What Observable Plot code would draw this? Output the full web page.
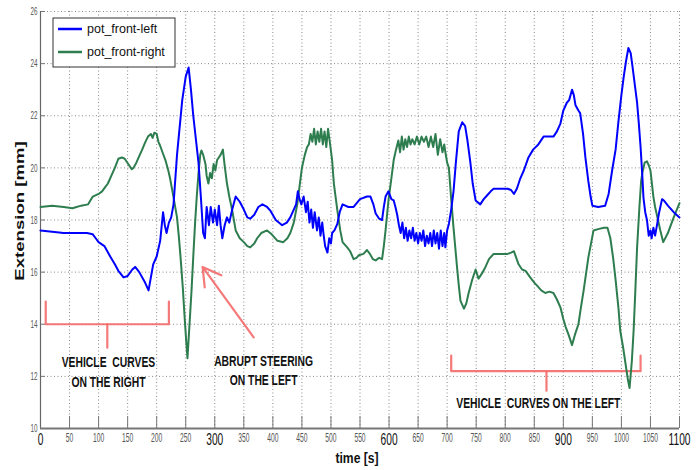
<!DOCTYPE html>
<html><head><meta charset="utf-8">
<script src="https://cdn.jsdelivr.net/npm/d3@7"></script>
<script src="https://cdn.jsdelivr.net/npm/@observablehq/plot@0.6"></script>
<style>
body{margin:0;background:#fff}
</style>
</head><body><div id="chart"></div>
<script>
// ---- series: pot_front-left (blue) ----
const leftT = [0,20,40,60,80,90,95,100,110,120,128,134,143,150,158,163,170,180,186,190,194,200,206,211,214,217,221,225,229,235,244,250,255,259,263,268,272,276,280,283,286,290,293,297,300,304,307,310,313,317,321,325,330,336,343,350,356,361,368,375,382,390,396,405,416,424,430,436,440,443,446,449,453,457,460,463,466,469,472,476,479,482,485,487,490,494,497,500,502,506,511,515,520,530,539,550,562,568,573,577,583,588,591,594,599,604,608,611,614,617,620,623,626,629,632,635,638,641,644,647,650,653,656,659,662,665,668,671,674,677,680,683,686,689,692,695,697,700,703,707,711,715,720,726,731,735,740,744,749,757,763,769,775,780,792,804,810,815,820,826,832,840,848,857,866,875,883,889,895,900,906,910,915,918,921,926,929,934,938,943,947,950,960,972,978,984,990,995,1000,1004,1008,1012,1016,1019,1023,1027,1030,1033,1036,1038,1041,1044,1047,1050,1052,1055,1058,1062,1065,1070,1073,1080,1090,1100];
const leftV = [17.6,17.55,17.5,17.5,17.5,17.45,17.3,17.15,17.0,16.6,16.3,16.05,15.8,15.85,16.1,16.2,16.0,15.6,15.3,15.8,16.3,16.6,17.2,18.3,17.8,17.5,17.9,18.1,18.6,20.5,22.6,23.5,23.85,23.0,22.0,21.0,20.2,18.9,17.5,17.3,18.5,17.8,18.5,17.9,18.4,17.8,18.55,17.8,17.3,17.8,18.1,17.9,18.4,18.9,18.7,18.4,18.1,18.05,18.2,18.5,18.6,18.5,18.35,18.0,17.8,17.9,18.1,18.4,18.6,19.1,18.8,18.6,18.9,18.3,18.7,17.9,18.4,17.7,18.3,17.6,18.1,17.4,17.9,17.5,17.0,16.75,17.3,17.1,17.5,17.6,17.85,18.3,18.6,18.5,18.5,18.8,18.9,18.9,18.6,18.25,18.05,18.0,18.5,18.9,19.1,18.8,18.75,18.5,18.2,17.8,17.5,17.9,17.3,17.7,17.2,17.6,17.3,17.7,17.2,17.5,17.1,17.5,17.2,17.6,17.0,17.4,17.1,17.5,17.0,17.6,17.1,17.5,16.9,17.6,17.0,17.5,16.95,17.6,17.85,18.4,19.1,20.2,21.4,21.75,21.6,21.05,20.2,19.4,18.75,18.6,18.8,18.95,19.1,19.2,19.2,19.2,19.15,19.0,19.2,19.6,19.9,20.4,20.7,20.9,21.2,21.2,21.2,21.4,21.7,22.2,22.5,22.6,23.0,22.8,22.4,22.2,22.1,21.3,20.4,19.5,18.9,18.55,18.5,18.55,19.0,19.9,20.7,21.8,22.8,23.5,24.1,24.6,24.4,23.9,23.2,22.5,21.7,20.8,19.7,18.85,18.3,18.0,17.4,17.6,17.3,17.7,17.4,17.9,18.3,18.8,18.75,18.55,18.3,18.1];

// ---- series: pot_front-right (green) ----
const rightT = [0,20,40,55,70,82,90,100,106,111,116,122,128,134,140,145,151,157,160,165,169,175,180,185,190,193,196,200,203,206,210,215,220,223,229,235,238,241,245,248,251,253,256,260,263,266,269,272,275,277,280,284,286,289,292,295,298,301,304,307,310,314,317,321,325,330,336,343,350,356,361,368,373,380,390,398,408,418,425,430,436,442,446,450,455,459,462,465,468,471,474,477,480,483,486,489,492,495,498,502,505,511,516,520,528,533,539,544,548,556,562,567,572,577,583,588,591,594,599,604,608,612,616,619,622,625,628,631,634,637,640,644,648,652,656,660,664,668,672,676,680,684,688,692,695,697,700,703,707,711,717,720,723,729,733,737,743,749,754,760,766,772,780,792,804,810,815,819,823,829,835,843,850,856,862,869,876,883,889,895,900,904,909,915,920,926,930,935,943,952,960,970,976,981,986,990,995,998,1003,1007,1011,1014,1018,1021,1024,1027,1031,1034,1036,1040,1044,1047,1050,1053,1055,1058,1062,1067,1072,1080,1090,1100];
const rightV = [18.5,18.55,18.5,18.45,18.55,18.6,18.9,19.0,19.1,19.25,19.4,19.7,20.0,20.35,20.4,20.35,20.15,19.95,20.0,20.2,20.4,20.7,20.97,21.2,21.3,21.15,21.35,21.3,21.0,20.85,20.6,20.3,19.9,19.6,18.87,18.1,17.4,16.6,15.4,14.3,13.3,12.7,13.8,15.3,16.6,17.85,18.9,19.8,20.5,20.67,20.5,20.15,19.7,19.4,19.8,19.6,20.15,19.9,20.3,20.4,20.5,20.7,20.1,19.4,18.9,18.37,17.6,17.3,17.15,17.0,16.95,17.1,17.3,17.5,17.6,17.45,17.2,17.15,17.3,17.5,17.9,18.6,19.3,20.0,20.5,20.8,20.9,21.3,21.0,21.5,20.9,21.4,21.0,21.5,20.9,21.4,20.8,21.5,21.0,20.3,19.4,18.37,17.6,17.15,16.95,16.8,16.5,16.55,16.65,16.7,16.85,16.7,16.5,16.45,16.55,16.5,17.0,17.6,18.75,19.6,20.3,20.7,21.05,20.6,21.2,20.7,21.1,20.8,21.2,20.9,21.1,20.9,21.2,20.9,21.2,21.0,21.2,20.8,21.2,20.8,21.3,20.5,21.1,20.6,20.9,20.6,20.2,20.0,18.8,17.7,16.2,15.5,14.9,14.6,14.8,15.2,15.7,16.1,15.75,15.95,16.2,16.5,16.7,16.7,16.7,16.75,16.8,16.55,16.3,16.1,16.05,15.8,15.6,15.45,15.3,15.2,15.25,15.2,14.95,14.65,14.2,13.9,13.6,13.2,13.6,14.0,14.6,15.3,16.55,17.6,17.65,17.7,17.7,17.3,16.5,15.7,14.6,13.75,13.1,12.5,11.9,11.55,12.6,13.75,15.3,16.95,18.5,19.5,19.8,20.2,20.25,20.1,19.9,19.3,18.9,18.5,18.1,17.6,17.15,17.5,18.1,18.65];

// ---- axes ----
const xTicks = [0,50,100,150,200,250,300,350,400,450,500,550,600,650,700,750,800,850,900,950,1000,1050,1100];
const xTicksBig = [0,300,600,900,1100];
const yTicks = [10,12,14,16,18,20,22,24,26];

// ---- annotations ----
const bracketX = [9,9,221,221, 115,115, 707,707,1033,1033, 871,871];
const bracketY = [14.87,14.0,14.0,14.87, 14.0,13.1, 12.8,12.2,12.2,12.8, 12.2,11.45];
const bracketId = [1,1,1,1, 2,2, 3,3,3,3, 4,4];
const arrowFrom = [367, 13.5];
const arrowTo = [279, 16.2];
const noteText = ["VEHICLE\u00a0 CURVES","ON THE RIGHT","ABRUPT STEERING","ON THE LEFT","VEHICLE\u00a0 CURVES ON THE LEFT"];
const noteX = [117,117,384,384,857];
const noteY = [12.53,11.77,12.57,11.84,10.96];

const seriesNames = ["pot_front-left","pot_front-right"];
const colors = ["#0000ff","#2e7d4f"];

const left = leftT.map((t,i)=>({t, v:leftV[i]}));
const right = rightT.map((t,i)=>({t, v:rightV[i]}));
const brackets = bracketX.map((x,i)=>({x, y:bracketY[i], id:bracketId[i]}));
const notes = noteText.map((s,i)=>({s, x:noteX[i], y:noteY[i]}));

const sans = "'Liberation Sans',Arial,sans-serif";
const annoColor = "#f46a6a";

const chart = Plot.plot({
  width: 700, height: 470,
  marginLeft: 40, marginRight: 21, marginTop: 11, marginBottom: 42,
  x: {domain:[0,1100]},
  y: {domain:[10,26]},
  style: {fontFamily: sans, background:"#fff"},
  marks: [
    Plot.gridX(xTicks, {stroke:"#888", strokeOpacity:1, strokeDasharray:"1,2.5"}),
    Plot.gridY(yTicks, {stroke:"#888", strokeOpacity:1, strokeDasharray:"1,2.5"}),
    Plot.ruleX(xTicks, {stroke:"#777", insetTop:405}),
    Plot.ruleY(yTicks, {stroke:"#777", insetRight:634}),
    Plot.ruleX([0], {stroke:"#666", strokeWidth:1.2}),
    Plot.ruleY([10], {stroke:"#777", strokeWidth:2}),
    Plot.axisX(xTicks.filter(d=>!xTicksBig.includes(d)), {tickSize:0, tickPadding:5, fontSize:12, fill:"#555", label:null, tickFormat:d=>String(d)}),
    Plot.axisX(xTicksBig, {tickSize:0, tickPadding:4, fontSize:17, fill:"#111", label:null, tickFormat:d=>String(d)}),
    Plot.axisY(yTicks, {tickSize:0, tickPadding:3, fontSize:11.5, fill:"#555", label:null}),
    Plot.line(brackets, {x:"x", y:"y", z:"id", stroke:annoColor, strokeWidth:2.2, strokeOpacity:0.9}),
    Plot.arrow([0], {x1:()=>arrowFrom[0], y1:()=>arrowFrom[1], x2:()=>arrowTo[0], y2:()=>arrowTo[1], stroke:annoColor, strokeWidth:2.2, headLength:14, strokeOpacity:0.9}),
    Plot.text(notes, {x:"x", y:"y", text:"s", fontSize:14, fontWeight:"bold", fill:"#111"}),
    Plot.line(right, {x:"t", y:"v", stroke:colors[1], strokeWidth:2}),
    Plot.line(left, {x:"t", y:"v", stroke:colors[0], strokeWidth:2})
  ]
});

const svg = d3.select(chart);
// horizontally condense texts (the reference uses a narrow face)
function squeeze(sel, sx){
  sel.each(function(){
    const x = parseFloat(this.getAttribute("x")) || 0;
    const t = this.getAttribute("transform") || "";
    this.setAttribute("transform", `${t} translate(${x},0) scale(${sx},1) translate(${-x},0)`);
  });
}
const xLabelGroups = svg.selectAll('g[aria-label="x-axis tick label"]').nodes();
squeeze(d3.select(xLabelGroups[0]).selectAll("text"), 0.56);
squeeze(d3.select(xLabelGroups[1]).selectAll("text"), 0.6);
squeeze(svg.selectAll('g[aria-label="y-axis tick label"] text'), 0.55);
squeeze(svg.selectAll('g[aria-label="text"] text'), 0.74);

// axis titles
svg.append("text").attr("transform","translate(24,211) rotate(-90) scale(1.55,1)")
  .attr("text-anchor","middle").attr("font-family",sans).attr("font-weight","bold")
  .attr("font-size",12).attr("fill","#111").text("Extension [mm]");
svg.append("text").attr("transform","translate(357,463) scale(0.81,1)").attr("text-anchor","middle")
  .attr("font-family",sans).attr("font-weight","bold").attr("font-size",15).attr("fill","#111").text("time [s]");
// legend
const lg = svg.append("g").attr("text-anchor","start");
lg.append("rect").attr("x",53).attr("y",18).attr("width",122).attr("height",49).attr("fill","#fff").attr("stroke","#333").attr("stroke-width",1);
seriesNames.forEach((n,i)=>{
  const y = 29 + i*23;
  lg.append("line").attr("x1",58).attr("x2",82).attr("y1",y).attr("y2",y).attr("stroke",colors[i]).attr("stroke-width",2.5);
  lg.append("text").attr("x",87).attr("y",y).attr("dy","0.35em").attr("font-family",sans)
    .attr("font-size",12.5).attr("fill","#111").text(n);
});
document.getElementById("chart").appendChild(chart);
</script>
</body></html>
